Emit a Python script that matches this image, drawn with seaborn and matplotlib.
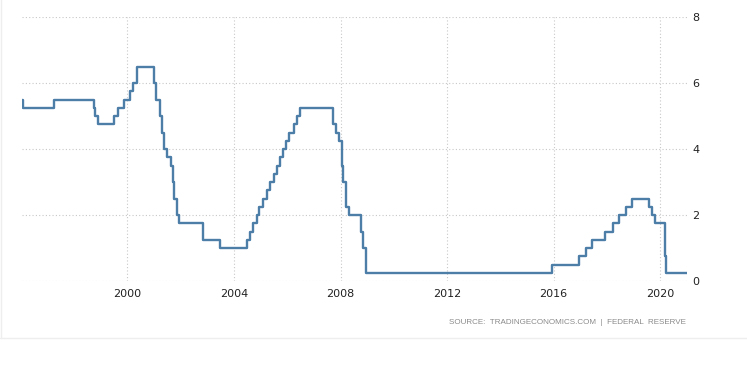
import pandas as pd
import seaborn as sns
from matplotlib import pyplot as plt
from matplotlib.lines import Line2D

# Fed funds target rate: date of each change and the new level
change_dates = ['1996-01-15', '1996-02-01', '1997-03-26', '1998-09-30', '1998-10-16',
                '1998-11-18', '1999-07-01', '1999-08-25', '1999-11-17', '2000-02-02',
                '2000-03-22', '2000-05-17', '2001-01-03', '2001-01-31', '2001-03-20',
                '2001-04-18', '2001-05-15', '2001-06-27', '2001-08-21', '2001-09-17',
                '2001-10-02', '2001-11-06', '2001-12-11', '2002-11-06', '2003-06-25',
                '2004-06-30', '2004-08-10', '2004-09-21', '2004-11-10', '2004-12-14',
                '2005-02-02', '2005-03-22', '2005-05-03', '2005-06-30', '2005-08-09',
                '2005-09-20', '2005-11-01', '2005-12-13', '2006-01-31', '2006-03-28',
                '2006-05-10', '2006-06-29', '2007-09-18', '2007-10-31', '2007-12-11',
                '2008-01-22', '2008-01-30', '2008-03-18', '2008-04-30', '2008-10-08',
                '2008-10-29', '2008-12-16', '2015-12-16', '2016-12-14', '2017-03-15',
                '2017-06-14', '2017-12-13', '2018-03-21', '2018-06-13', '2018-09-26',
                '2018-12-19', '2019-07-31', '2019-09-18', '2019-10-30', '2020-03-03',
                '2020-03-20', '2020-12-31']
rates = [5.5, 5.25, 5.5, 5.25, 5.0,
         4.75, 5.0, 5.25, 5.5, 5.75,
         6.0, 6.5, 6.0, 5.5, 5.0,
         4.5, 4.0, 3.75, 3.5, 3.0,
         2.5, 2.0, 1.75, 1.25, 1.0,
         1.25, 1.5, 1.75, 2.0, 2.25,
         2.5, 2.75, 3.0, 3.25, 3.5,
         3.75, 4.0, 4.25, 4.5, 4.75,
         5.0, 5.25, 4.75, 4.5, 4.25,
         3.5, 3.0, 2.25, 2.0, 1.5,
         1.0, 0.25, 0.5, 0.75, 1.0,
         1.25, 1.5, 1.75, 2.0, 2.25,
         2.5, 2.25, 2.0, 1.75, 0.75,
         0.25, 0.25]
year_ticks = [2000, 2004, 2008, 2012, 2016, 2020]
y_ticks = [0, 2, 4, 6, 8]

df = pd.DataFrame({'date': pd.to_datetime(change_dates), 'rate': rates})

sns.set_style('white')
plt.rcParams['font.family'] = ['DejaVu Sans']

fig = plt.figure(figsize=(7.47, 3.69), dpi=100)
ax = fig.add_axes([22 / 747, 1 - 281 / 369, 665 / 747, 264 / 369])

sns.lineplot(data=df, x='date', y='rate', ax=ax, color='#4c7ea8', linewidth=1.7,
             drawstyle='steps-post', zorder=3)

ax.set_xlim(pd.Timestamp('1996-01-15'), pd.Timestamp('2021-01-05'))
ax.set_ylim(0, 8)
ax.set_xticks([pd.Timestamp(f'{y}-01-01') for y in year_ticks])
ax.set_xticklabels([str(y) for y in year_ticks])
ax.set_yticks(y_ticks)
ax.yaxis.tick_right()
ax.tick_params(axis='both', length=0, labelsize=8, colors='#222222')
ax.tick_params(axis='y', pad=4)
ax.tick_params(axis='x', pad=6)
ax.grid(True, linestyle=(0, (1, 2)), color='#c8c8c8', linewidth=0.8)
ax.set_xlabel('')
ax.set_ylabel('')
for s in ax.spines.values():
    s.set_visible(False)

fig.text(686 / 747, 1 - 323 / 369, 'SOURCE:  TRADINGECONOMICS.COM  |  FEDERAL  RESERVE',
         ha='right', va='center', fontsize=5.8, color='#8a8a8a',
         family=['Liberation Sans', 'DejaVu Sans'])

# faint outer frame
fig.add_artist(Line2D([1.5 / 747, 1.5 / 747], [1 - 338 / 369, 1], color='#eeeeee', lw=1))
fig.add_artist(Line2D([0, 1], [1 - 338 / 369, 1 - 338 / 369], color='#eeeeee', lw=1))

fig.savefig('out.png', dpi=100)
